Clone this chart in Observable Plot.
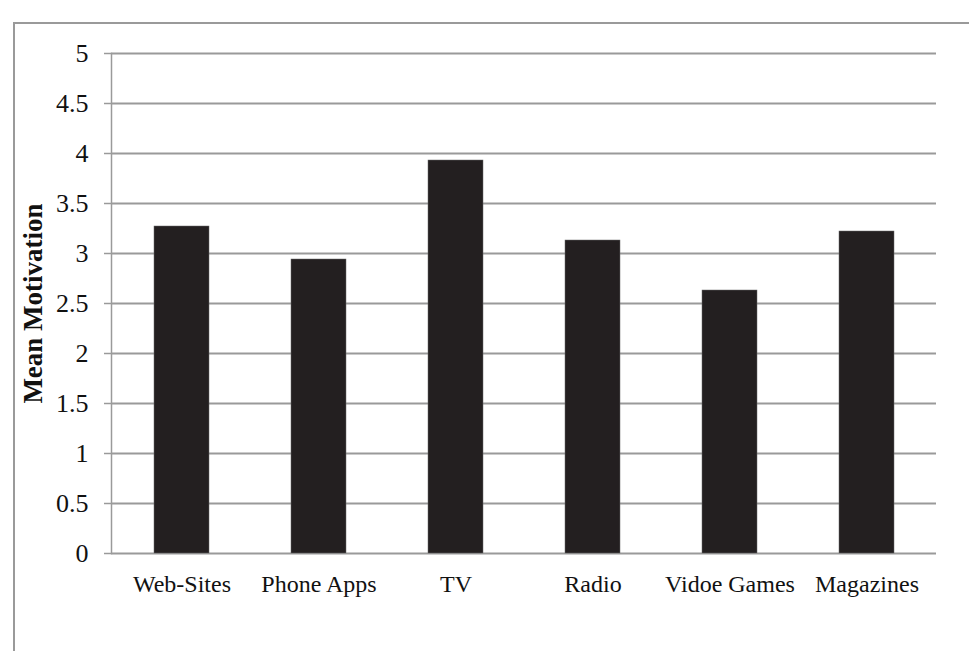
<!DOCTYPE html>
<html>
<head>
<meta charset="utf-8">
<script src="https://cdn.jsdelivr.net/npm/d3@7"></script>
<script src="https://cdn.jsdelivr.net/npm/@observablehq/plot@0.6"></script>
<style>
  html, body { margin: 0; padding: 0; background: #fff; }
  #wrap { position: relative; width: 969px; height: 651px; overflow: hidden; }
  #border { position: absolute; left: 13px; top: 22px; width: 1000px; height: 700px;
            border-left: 2px solid #9a9a9a; border-top: 2px solid #9a9a9a; box-sizing: border-box; }
  #chart { position: absolute; left: 0; top: 0; }
</style>
</head>
<body>
<div id="wrap"><div id="border"></div><div id="chart"></div></div>
<script>
const categories = ["Web-Sites", "Phone Apps", "TV", "Radio", "Vidoe Games", "Magazines"];
const values = [3.27, 2.94, 3.93, 3.13, 2.63, 3.22];
const yTicks = [0, 0.5, 1, 1.5, 2, 2.5, 3, 3.5, 4, 4.5, 5];
const yTitle = "Mean Motivation";

const data = categories.map((c, i) => ({category: c, value: values[i]}));
const gray = "#9a9a9a";
const font = "'Liberation Serif', 'Times New Roman', serif";

const chart = Plot.plot({
  width: 969,
  height: 651,
  marginLeft: 111,
  marginRight: 33,
  marginTop: 53,
  marginBottom: 98,
  style: {fontFamily: font, fontSize: "24px", color: "#111", background: "transparent"},
  x: {domain: categories, paddingInner: 0.6, paddingOuter: 0.3},
  y: {domain: [0, 5]},
  marks: [
    Plot.gridY(yTicks, {stroke: gray, strokeOpacity: 1, strokeWidth: 2}),
    Plot.frame({anchor: "left", stroke: gray, strokeWidth: 1.5}),
    Plot.axisY(yTicks, {tickSize: 7, tickPadding: 16, stroke: gray, strokeOpacity: 1, strokeWidth: 1.5,
      tickFormat: d => String(d), fill: "#111", fontSize: 26,
      label: yTitle, labelAnchor: "center", labelArrow: "none", labelOffset: 89}),
    Plot.axisX({tickSize: 0, tickPadding: 21, label: null, fill: "#111", fontSize: 24}),
    Plot.barY(data, {x: "category", y: "value", fill: "#231f20", stroke: "#6a6a6a", strokeWidth: 0.5})
  ]
});
d3.select(chart).selectAll("[aria-label='y-axis label'] text, [aria-label='y-axis label']")
  .style("font-weight", "bold").style("font-size", "27px");
document.getElementById("chart").appendChild(chart);
</script>
</body>
</html>
